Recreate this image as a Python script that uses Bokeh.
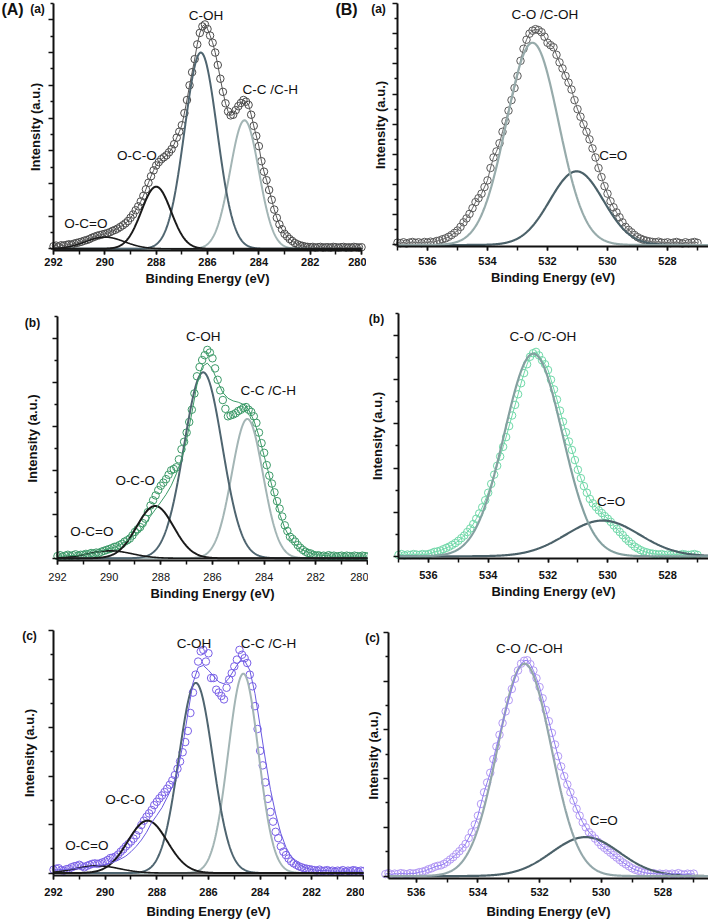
import numpy as np
from bokeh.plotting import figure
from bokeh.models import Range1d, Label, SingleIntervalTicker, FixedTicker, LinearAxis
from bokeh.layouts import row, column
from bokeh.embed import file_html
from bokeh.resources import INLINE

FONT = "Liberation Sans"

# ------------------------------------------------------------------ data
# binding-energy grids of the measured points (instrument step 0.1 eV)
c1s_energy = np.round(np.arange(292.0, 279.95, -0.1), 1)
c1s_fit_energy = np.round(np.arange(292.0, 279.95, -0.2), 1)
o1s_energy = np.round(np.arange(537.0, 526.95, -0.1), 1)

# ---- (A)(a) C 1s, measured intensity (a.u.)
c1s_a_counts = [0.08, 0.10, 0.07, 0.11, 0.10, 0.12, 0.14, 0.13, 0.16, 0.18, 0.20,
                0.22, 0.25, 0.27, 0.30, 0.34, 0.37, 0.40, 0.42, 0.44, 0.46,
                0.48, 0.51, 0.55, 0.58, 0.62, 0.67, 0.72, 0.78, 0.85, 0.95,
                1.05, 1.18, 1.30, 1.45, 1.62, 1.82, 2.02, 2.22, 2.40, 2.55,
                2.65, 2.74, 2.80, 2.86, 2.95, 3.05, 3.20, 3.40, 3.58, 3.78,
                4.15, 4.55, 5.00, 5.40, 5.80, 6.25, 6.60, 6.80, 6.86, 6.72,
                6.52, 6.30, 6.00, 5.62, 5.20, 4.80, 4.45, 4.20, 4.08, 4.10,
                4.24, 4.36, 4.46, 4.55, 4.50, 4.40, 4.10, 3.76, 3.45, 3.14,
                2.68, 2.36, 2.10, 1.80, 1.50, 1.20, 0.95, 0.75, 0.60, 0.46,
                0.38, 0.30, 0.24, 0.18, 0.14, 0.11, 0.09, 0.07, 0.06, 0.05,
                0.06, 0.04, 0.05, 0.06, 0.04, 0.05, 0.05, 0.04, 0.06, 0.05,
                0.04, 0.05, 0.06, 0.04, 0.05, 0.04, 0.06, 0.05, 0.04, 0.05]

# ---- (A)(b) C 1s
c1s_b_counts = [0.05, 0.07, 0.04, 0.06, 0.08, 0.05, 0.07, 0.09, 0.06, 0.08, 0.08,
                0.10, 0.09, 0.12, 0.11, 0.13, 0.12, 0.15, 0.17, 0.19, 0.21,
                0.23, 0.26, 0.27, 0.30, 0.33, 0.38, 0.41, 0.45, 0.52, 0.60,
                0.66, 0.71, 0.80, 0.90, 1.05, 1.20, 1.32, 1.43, 1.55, 1.65,
                1.72, 1.80, 1.90, 2.00, 2.03, 2.07, 2.25, 2.48, 2.65, 2.86,
                3.10, 3.38, 3.75, 4.14, 4.35, 4.51, 4.62, 4.74, 4.68, 4.55,
                4.32, 4.06, 3.82, 3.60, 3.40, 3.23, 3.25, 3.27, 3.30, 3.35,
                3.38, 3.42, 3.44, 3.38, 3.33, 3.23, 3.08, 2.86, 2.62, 2.40,
                2.12, 1.88, 1.70, 1.50, 1.30, 1.13, 0.95, 0.75, 0.62, 0.49,
                0.44, 0.38, 0.30, 0.24, 0.19, 0.15, 0.12, 0.11, 0.08, 0.06,
                0.07, 0.05, 0.06, 0.04, 0.07, 0.05, 0.06, 0.04, 0.05, 0.06,
                0.04, 0.06, 0.05, 0.04, 0.06, 0.05, 0.04, 0.06, 0.05, 0.04]
c1s_b_envelope = [0.05, 0.05, 0.06, 0.06, 0.07, 0.08, 0.10, 0.12, 0.15, 0.18,
                  0.22, 0.25, 0.30, 0.37, 0.44, 0.53, 0.63, 0.78, 0.96, 1.12,
                  1.28, 1.45, 1.65, 1.92, 2.25, 2.70, 3.30, 3.95, 4.36, 4.44,
                  4.30, 4.02, 3.77, 3.64, 3.58, 3.55, 3.50, 3.38, 3.14, 2.78,
                  2.33, 1.88, 1.42, 1.01, 0.69, 0.46, 0.32, 0.22, 0.16, 0.12,
                  0.08, 0.07, 0.06, 0.05, 0.05, 0.05, 0.05, 0.05, 0.05, 0.05,
                  0.05]

# ---- (A)(c) C 1s
c1s_c_counts = [0.07, 0.09, 0.10, 0.06, 0.05, 0.08, 0.09, 0.12, 0.14, 0.15, 0.17,
                0.14, 0.12, 0.15, 0.17, 0.19, 0.20, 0.19, 0.20, 0.22, 0.24,
                0.27, 0.31, 0.32, 0.34, 0.38, 0.44, 0.49, 0.55, 0.60, 0.65,
                0.71, 0.78, 0.88, 0.99, 1.08, 1.16, 1.23, 1.30, 1.40, 1.47,
                1.54, 1.60, 1.67, 1.74, 1.82, 1.91, 2.02, 2.15, 2.30, 2.49,
                2.70, 2.93, 3.30, 3.72, 4.09, 4.36, 4.57, 4.60, 4.36, 4.53,
                4.02, 4.02, 3.78, 3.72, 3.65, 3.58, 3.82, 3.99, 4.12, 4.26,
                4.40, 4.60, 4.50, 4.43, 4.33, 4.09, 3.85, 3.44, 2.97, 2.52,
                2.22, 1.87, 1.53, 1.26, 1.06, 0.85, 0.72, 0.55, 0.44, 0.37,
                0.30, 0.24, 0.20, 0.17, 0.14, 0.12, 0.10, 0.09, 0.08, 0.07,
                0.06, 0.05, 0.07, 0.04, 0.05, 0.06, 0.04, 0.05, 0.03, 0.05,
                0.04, 0.06, 0.03, 0.05, 0.04, 0.06, 0.05, 0.03, 0.05, 0.04]
c1s_c_envelope = [0.06, 0.07, 0.07, 0.08, 0.09, 0.10, 0.11, 0.13, 0.14, 0.16,
                  0.17, 0.20, 0.24, 0.29, 0.35, 0.44, 0.55, 0.68, 0.84, 1.04,
                  1.19, 1.35, 1.56, 1.78, 2.10, 2.62, 3.28, 3.92, 4.24, 4.28,
                  4.18, 4.06, 3.94, 3.90, 4.02, 4.20, 4.36, 4.38, 4.18, 3.70,
                  3.03, 2.35, 1.72, 1.22, 0.82, 0.53, 0.34, 0.22, 0.15, 0.10,
                  0.07, 0.06, 0.05, 0.05, 0.04, 0.04, 0.04, 0.04, 0.04, 0.04,
                  0.04]

# ---- (B)(a)(b)(c) O 1s
o1s_a_counts = [0.08, 0.06, 0.09, 0.05, 0.08, 0.10, 0.07, 0.09, 0.06, 0.10, 0.08,
                0.11, 0.09, 0.13, 0.15, 0.19, 0.22, 0.27, 0.33, 0.40, 0.48,
                0.60, 0.75, 0.88, 1.03, 1.22, 1.42, 1.55, 1.70, 1.92, 2.14,
                2.55, 2.90, 3.10, 3.37, 3.75, 4.10, 4.45, 4.80, 5.20, 5.60,
                6.10, 6.50, 6.80, 7.00, 7.10, 7.15, 7.12, 7.05, 6.90, 6.70,
                6.62, 6.55, 6.30, 6.05, 5.85, 5.60, 5.38, 5.15, 4.80, 4.50,
                4.25, 4.00, 3.75, 3.50, 3.20, 2.90, 2.55, 2.25, 1.95, 1.70,
                1.45, 1.25, 1.08, 0.92, 0.75, 0.60, 0.50, 0.42, 0.33, 0.26,
                0.21, 0.17, 0.14, 0.12, 0.10, 0.09, 0.11, 0.08, 0.07, 0.09,
                0.06, 0.08, 0.10, 0.07, 0.05, 0.09, 0.06, 0.08, 0.10, 0.07]
o1s_b_counts = [0.03, 0.05, 0.02, 0.04, 0.03, 0.05, 0.04, 0.03, 0.05, 0.04, 0.05,
                0.07, 0.10, 0.11, 0.13, 0.16, 0.19, 0.22, 0.26, 0.30, 0.35,
                0.41, 0.47, 0.55, 0.63, 0.73, 0.85, 0.97, 1.11, 1.27, 1.44,
                1.64, 1.85, 2.05, 2.26, 2.48, 2.70, 2.95, 3.19, 3.43, 3.67,
                3.92, 4.15, 4.35, 4.52, 4.60, 4.63, 4.55, 4.44, 4.35, 4.22,
                4.00, 3.78, 3.55, 3.30, 3.05, 2.81, 2.60, 2.41, 2.18, 1.96,
                1.77, 1.59, 1.44, 1.30, 1.20, 1.12, 1.04, 0.98, 0.91, 0.85,
                0.78, 0.70, 0.62, 0.55, 0.48, 0.40, 0.34, 0.28, 0.22, 0.18,
                0.14, 0.11, 0.09, 0.07, 0.06, 0.05, 0.04, 0.05, 0.03, 0.04,
                0.03, 0.05, 0.04, 0.03, 0.05, 0.04, 0.03, 0.04, 0.05, 0.03]
o1s_c_counts = [0.04, 0.06, 0.03, 0.05, 0.04, 0.06, 0.05, 0.04, 0.06, 0.05, 0.06,
                0.08, 0.09, 0.11, 0.14, 0.16, 0.19, 0.21, 0.22, 0.25, 0.29,
                0.34, 0.39, 0.45, 0.51, 0.58, 0.66, 0.78, 0.90, 1.06, 1.24,
                1.48, 1.72, 1.92, 2.12, 2.40, 2.66, 2.90, 3.14, 3.38, 3.61,
                3.84, 4.05, 4.22, 4.36, 4.42, 4.43, 4.35, 4.22, 4.06, 3.88,
                3.65, 3.41, 3.18, 2.94, 2.70, 2.46, 2.25, 2.05, 1.88, 1.72,
                1.55, 1.38, 1.24, 1.10, 1.00, 0.90, 0.84, 0.77, 0.70, 0.63,
                0.58, 0.53, 0.48, 0.43, 0.38, 0.33, 0.28, 0.24, 0.20, 0.16,
                0.13, 0.11, 0.09, 0.07, 0.06, 0.05, 0.06, 0.04, 0.05, 0.04,
                0.05, 0.03, 0.05, 0.04, 0.06, 0.04, 0.03, 0.05, 0.04, 0.05]

# ---- fitted components (centre eV, height a.u., FWHM eV)
c1s_peak_names = ["O-C=O", "O-C-O", "C-OH", "C-C /C-H"]
c1s_a_centers = [290.00, 288.00, 286.26, 284.56]
c1s_a_heights = [0.36, 1.90, 6.00, 3.93]
c1s_a_fwhm = [1.80, 1.36, 1.49, 1.32]
c1s_b_centers = [289.96, 288.22, 286.36, 284.65]
c1s_b_heights = [0.17, 1.19, 4.23, 3.17]
c1s_b_fwhm = [2.00, 1.68, 1.74, 1.42]
c1s_c_centers = [290.30, 288.36, 286.49, 284.65]
c1s_c_heights = [0.15, 1.08, 3.92, 4.11]
c1s_c_fwhm = [2.00, 1.80, 1.55, 1.38]

o1s_peak_names = ["C-O /C-OH", "C=O"]
o1s_a_centers = [532.50, 531.03]
o1s_a_heights = [6.70, 2.44]
o1s_a_fwhm = [2.05, 2.10]
o1s_b_centers = [532.49, 530.17]
o1s_b_heights = [4.59, 0.81]
o1s_b_fwhm = [2.28, 2.90]
o1s_c_centers = [532.49, 530.51]
o1s_c_heights = [4.36, 0.80]
o1s_c_fwhm = [2.05, 2.60]


def gauss(x, c, h, w):
    return h * np.exp(-4.0 * np.log(2.0) * (x - c) ** 2 / w ** 2)


INK = "#111111"


def style_axis(ax):
    ax.axis_line_width = 2
    ax.axis_line_color = INK
    ax.major_tick_line_width = 1.5
    ax.minor_tick_line_width = 1.5
    ax.major_tick_line_color = INK
    ax.minor_tick_line_color = INK
    ax.major_tick_in = 0
    ax.minor_tick_in = 0


def make_panel(cfg):
    cl, ct, cr, cb = cfg["canvas"]
    ax_px, ay_px, at_px = cfg["axes_px"]          # y-axis x, x-axis y, y-axis top y (page px)
    xs, k = cfg["x_start"], cfg["k"]               # energy at the y axis, px per eV
    yb, yt = cfg["yr"]
    u = (ay_px - at_px) / (yt - yb)               # px per intensity unit
    x_left = xs + (ax_px - cl) / k
    x_right = xs - (cr - ax_px) / k
    y_bot = yb - (cb - ay_px) / u
    y_top = yt + (at_px - ct) / u
    x_end = cfg.get("x_end", x_right)

    p = figure(width=cr - cl, height=cb - ct,
               x_range=Range1d(x_left, x_right), y_range=Range1d(y_bot, y_top),
               x_axis_location=None, y_axis_location=None,
               output_backend="svg", toolbar_location=None,
               min_border_left=0, min_border_right=0, min_border_top=0, min_border_bottom=0)
    p.title.visible = False
    p.grid.visible = False
    p.xgrid.visible = False
    p.ygrid.visible = False
    p.outline_line_color = None
    p.background_fill_color = "white"
    p.border_fill_color = "white"

    def to_data(px, py):
        return (xs - (px - ax_px) / k, yb + (ay_px - py) / u)

    # x axis
    xa = LinearAxis(fixed_location=yb, bounds=(min(x_end, xs), max(x_end, xs)),
                    ticker=SingleIntervalTicker(interval=2, num_minor_ticks=2))
    style_axis(xa)
    xa.major_tick_out = 4
    xa.minor_tick_out = 4
    xa.major_label_text_font = FONT
    xa.major_label_text_font_size = "11px"
    xa.major_label_text_font_style = cfg.get("tick_style", "bold")
    xa.major_label_text_color = INK
    xa.major_label_standoff = cfg["xs"][0]
    xa.axis_label = "Binding Energy (eV)"
    xa.axis_label_text_font = FONT
    xa.axis_label_text_font_size = "13px"
    xa.axis_label_text_font_style = "bold"
    xa.axis_label_text_color = INK
    xa.axis_label_standoff = cfg["xs"][1]
    p.add_layout(xa, "below")

    # y axis: long ticks at whole units, short ticks half-way; no tick labels
    whole = [float(v) for v in np.arange(0, yt + 1e-9, 1.0)]
    half = [float(v) for v in np.arange(0.5, yt + 1e-9, 1.0)]
    ya = LinearAxis(fixed_location=xs, bounds=(yb, yt),
                    ticker=FixedTicker(ticks=[], minor_ticks=whole))
    style_axis(ya)
    ya.major_tick_out = 5
    ya.minor_tick_out = 5
    ya.axis_label = "Intensity (a.u.)"
    ya.axis_label_text_font = FONT
    ya.axis_label_text_font_size = "13px"
    ya.axis_label_text_font_style = "bold"
    ya.axis_label_text_color = INK
    ya.axis_label_standoff = cfg["ys"]
    p.add_layout(ya, "left")
    ya2 = LinearAxis(fixed_location=xs, bounds=(yb, yt),
                     ticker=FixedTicker(ticks=[], minor_ticks=half))
    style_axis(ya2)
    ya2.axis_line_color = None
    ya2.major_tick_out = 3
    ya2.minor_tick_out = 3
    p.add_layout(ya2, "left")

    # measured points
    p.scatter(cfg["x"], cfg["y"], marker="circle", size=cfg.get("dot", 7.5),
              fill_color=None, line_color=cfg["dot_color"], line_width=1)

    grid = np.linspace(min(x_end, xs), max(x_end, xs), 700)
    env_x, env_y = cfg["env"]
    if not cfg.get("env_on_top", True):
        p.line(env_x, env_y, line_color=cfg["env_color"], line_width=1)
    for c, h, w, col, lw in reversed(list(zip(cfg["centers"], cfg["heights"], cfg["fwhm"],
                                              cfg["comp_colors"], cfg["comp_widths"]))):
        p.line(grid, gauss(grid, c, h, w), line_color=col, line_width=lw)
    if cfg.get("env_on_top", True):
        p.line(env_x, env_y, line_color=cfg["env_color"], line_width=1)

    for name, (lx, ly) in zip(cfg["names"], cfg["name_pos"]):
        p.add_layout(Label(x=lx, y=ly, text=name, text_font=FONT, text_font_size="13.5px",
                           text_align="center", text_baseline="middle", text_color=INK))

    for txt, px, py, size in cfg["letters"]:
        lx, ly = to_data(px, py)
        p.add_layout(Label(x=lx, y=ly, text=txt, text_font=FONT, text_font_size=f"{size}px",
                           text_font_style="bold", text_align="center", text_baseline="middle",
                           text_color=INK))
    return p


C_DARK = "#1a1a1a"
C_SLATE = "#4f6570"
C_LIGHT = "#a3b5b5"
c1s_colors = [C_DARK, C_DARK, C_SLATE, C_LIGHT]
c1s_widths = [1.6, 2.0, 2.0, 2.0]

panels = [
    dict(canvas=(0, 0, 366, 300), axes_px=(53, 250, 3), x_start=292, k=25.67, x_end=280,
         yr=(-0.05, 7.5), xs=(3, 2), ys=6,
         x=c1s_energy, y=c1s_a_counts, env=(c1s_energy, c1s_a_counts),
         dot_color="#4a4a4a", env_color="#555555",
         centers=c1s_a_centers, heights=c1s_a_heights, fwhm=c1s_a_fwhm,
         comp_colors=c1s_colors, comp_widths=c1s_widths, names=c1s_peak_names,
         name_pos=[(290.74, 0.78), (288.75, 2.84), (286.06, 7.14), (283.56, 4.86)],
         letters=[("(A)", 12, 9, 16), ("(a)", 37, 8, 12), ("(B)", 346, 9, 16)]),
    dict(canvas=(366, 0, 708, 300), axes_px=(397, 246, 3), x_start=537, k=30.0,
         yr=(-0.05, 8.0), xs=(6, 2), ys=5,
         x=o1s_energy, y=o1s_a_counts, env=(o1s_energy, o1s_a_counts),
         dot_color="#5a5a5a", env_color="#666666", env_on_top=False,
         centers=o1s_a_centers, heights=o1s_a_heights, fwhm=o1s_a_fwhm,
         comp_colors=["#97abab", "#4b6169"], comp_widths=[2.2, 2.2], names=o1s_peak_names,
         name_pos=[(532.09, 7.63), (529.81, 2.97)],
         letters=[("(a)", 378, 8, 12)]),
    dict(canvas=(0, 300, 368, 612), axes_px=(57, 560, 316), x_start=292, k=25.83, x_end=280,
         yr=(-0.05, 5.5), xs=(8, 2), ys=13, tick_style="normal",
         x=c1s_energy, y=c1s_b_counts, env=(c1s_fit_energy, c1s_b_envelope),
         dot_color="#3c9a68", env_color="#3c9a68",
         centers=c1s_b_centers, heights=c1s_b_heights, fwhm=c1s_b_fwhm,
         comp_colors=c1s_colors, comp_widths=c1s_widths, names=c1s_peak_names,
         name_pos=[(290.67, 0.61), (288.99, 1.76), (286.36, 5.04), (283.84, 3.81)],
         letters=[("(b)", 32, 322, 12)]),
    dict(canvas=(368, 300, 708, 612), axes_px=(398, 558, 313), x_start=537, k=29.9,
         yr=(-0.05, 5.5), xs=(8, 2), ys=9,
         x=o1s_energy, y=o1s_b_counts, env=(o1s_energy, o1s_b_counts),
         dot_color="#6fd8a8", env_color="#6fd8a8", env_on_top=False,
         centers=o1s_b_centers, heights=o1s_b_heights, fwhm=o1s_b_fwhm,
         comp_colors=["#84a0a0", "#4b6169"], comp_widths=[2.2, 2.2], names=o1s_peak_names,
         name_pos=[(532.17, 4.97), (529.89, 1.25)],
         letters=[("(b)", 376, 318, 12)]),
    dict(canvas=(0, 612, 364, 924), axes_px=(53, 875, 630), x_start=292, k=25.83, x_end=280,
         yr=(-0.05, 5.0), xs=(8, 5), ys=12,
         x=c1s_energy, y=c1s_c_counts, env=(c1s_fit_energy, c1s_c_envelope),
         dot_color="#7a60e8", env_color="#6a5ae0",
         centers=c1s_c_centers, heights=c1s_c_heights, fwhm=c1s_c_fwhm,
         comp_colors=c1s_colors, comp_widths=c1s_widths, names=c1s_peak_names,
         name_pos=[(290.71, 0.57), (289.23, 1.52), (286.56, 4.74), (283.68, 4.74)],
         letters=[("(c)", 29, 635, 12)]),
    dict(canvas=(364, 612, 708, 924), axes_px=(388, 878, 632), x_start=536.9, k=30.83,
         yr=(-0.05, 5.0), xs=(5, 5), ys=3,
         x=o1s_energy, y=o1s_c_counts, env=(o1s_energy, o1s_c_counts),
         dot_color="#b49af5", env_color="#8f7cf0",
         centers=o1s_c_centers, heights=o1s_c_heights, fwhm=o1s_c_fwhm,
         comp_colors=["#93a7aa", "#4b6169"], comp_widths=[2.2, 2.2], names=o1s_peak_names,
         name_pos=[(532.33, 4.68), (529.92, 1.14)],
         letters=[("(c)", 372, 637, 12)]),
]

figs = [make_panel(c) for c in panels]
layout = column(row(figs[0], figs[1]), row(figs[2], figs[3]), row(figs[4], figs[5]))

open("out.html", "w").write(file_html(layout, INLINE))
